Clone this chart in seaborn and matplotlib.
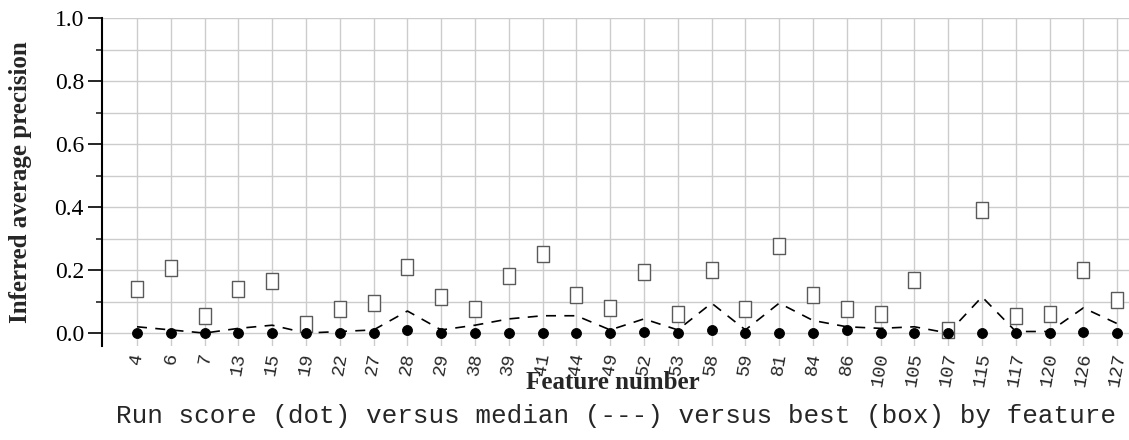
import numpy as np
import pandas as pd
import matplotlib
matplotlib.use("Agg")
import matplotlib.pyplot as plt
from matplotlib.path import Path
from matplotlib.ticker import MultipleLocator
import seaborn as sns

# data
features = ['4', '6', '7', '13', '15', '19', '22', '27', '28', '29', '38', '39', '41', '44', '49',
            '52', '53', '58', '59', '81', '84', '86', '100', '105', '107', '115', '117', '120', '126', '127']
best = [0.14, 0.205, 0.055, 0.14, 0.165, 0.03, 0.075, 0.095, 0.21, 0.115, 0.075, 0.18, 0.25, 0.12, 0.08,
        0.195, 0.06, 0.20, 0.075, 0.275, 0.12, 0.075, 0.06, 0.17, 0.01, 0.39, 0.055, 0.06, 0.20, 0.105]
median = [0.02, 0.01, 0.0, 0.015, 0.025, 0.0, 0.005, 0.01, 0.07, 0.01, 0.025, 0.045, 0.055, 0.055, 0.01,
          0.045, 0.01, 0.095, 0.01, 0.095, 0.04, 0.02, 0.015, 0.02, 0.0, 0.115, 0.005, 0.005, 0.08, 0.03]
run = [0.0, 0.0, 0.0, 0.0, 0.0, 0.0, 0.0, 0.0, 0.01, 0.0, 0.0, 0.0, 0.0, 0.0, 0.0,
       0.005, 0.0, 0.01, 0.0, 0.0, 0.0, 0.01, 0.0, 0.0, 0.0, 0.0, 0.0, 0.0, 0.005, 0.0]

df = pd.DataFrame({'pos': np.arange(len(features)), 'feature': features,
                   'best': best, 'median': median, 'run': run})

sns.set_style("white")
plt.rcParams['font.family'] = ['Liberation Serif', 'DejaVu Serif']

fig = plt.figure(figsize=(11.29, 4.40), dpi=100)
ax = fig.add_axes([102 / 1129, 1 - 346 / 440, 1 - 102 / 1129, (346 - 18) / 440])

# tall open rectangle marker for "best"
rect = Path([(-0.38, -0.5), (0.38, -0.5), (0.38, 0.5), (-0.38, 0.5), (-0.38, -0.5)],
            [Path.MOVETO, Path.LINETO, Path.LINETO, Path.LINETO, Path.CLOSEPOLY])

sns.lineplot(data=df, x='pos', y='median', ax=ax, color='black', lw=1.2,
             linestyle=(0, (6, 5)), zorder=3, sort=False)
sns.scatterplot(data=df, x='pos', y='best', ax=ax, marker=rect, s=135,
                facecolor='white', edgecolor='#5a5a5a', linewidth=1.0, zorder=4)
sns.scatterplot(data=df, x='pos', y='run', ax=ax, marker='o', s=52,
                color='black', edgecolor='black', zorder=5)

# 34 px per feature, first feature 35 px right of the spine
step = 33.8 / 1027
ax.set_xlim(-35 / 33.8, -35 / 33.8 + 1 / step)
ax.set_ylim(-0.041, 1.0)
ax.yaxis.set_major_locator(MultipleLocator(0.2))
ax.yaxis.set_minor_locator(MultipleLocator(0.1))
ax.set_xticks(df['pos'])
ax.set_xticklabels(features, rotation=80, family='Liberation Mono', fontsize=13.5,
                   ha='center', va='top')
ax.tick_params(axis='x', length=0, pad=4)
ax.tick_params(axis='y', which='major', direction='out', length=10, width=1.2,
               left=True, labelsize=17, colors='black', pad=3)
ax.tick_params(axis='y', which='minor', direction='out', length=4, width=1.2, left=True)
ax.set_yticks([0, 0.2, 0.4, 0.6, 0.8, 1.0])
ax.set_yticklabels(['0.0', '0.2', '0.4', '0.6', '0.8', '1.0'])

ax.grid(True, which='both', axis='y', color='#cccccc', lw=1)
ax.grid(True, which='major', axis='x', color='#cccccc', lw=1)
ax.set_axisbelow(True)

for s in ['top', 'right', 'bottom']:
    ax.spines[s].set_visible(False)
ax.spines['left'].set_color('black')
ax.spines['left'].set_linewidth(1.5)

ax.set_ylabel('Inferred average precision', fontsize=18, fontweight='bold')
ax.yaxis.set_label_coords(-0.068, 0.5)
ax.set_xlabel('Feature number', fontsize=18, fontweight='bold')
ax.xaxis.set_label_coords(0.497, -0.075)

fig.text(616 / 1129, 1 - 416 / 440, 'Run score (dot) versus median (---) versus best (box) by feature',
         family='Liberation Mono', fontsize=18.7, ha='center', va='center')

fig.savefig('out.png', dpi=100)
